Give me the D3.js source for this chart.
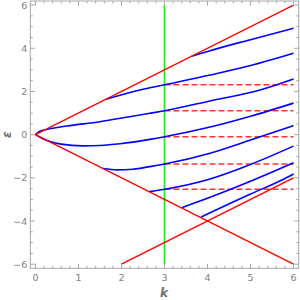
<!DOCTYPE html>
<html lang="en">
<head>
<meta charset="utf-8">
<script src="https://d3js.org/d3.v7.min.js"></script>
<style>
  html, body { margin: 0; padding: 0; background: #fff; }
  svg text { font-family: "DejaVu Sans", sans-serif; }
</style>
</head>
<body>
<script>
// band curves, [k, eps]
const bandA = [[3.63, 3.63], [4.06, 3.89], [5, 4.4], [6, 4.93]];
const bandB = [[1.64, 1.64], [2.43, 2.07], [3, 2.31], [4.06, 2.76], [5, 3.2], [6, 3.77]];
const bandC = [[0, 0], [0.08, 0.14], [0.26, 0.24], [0.73, 0.4], [1.5, 0.6], [1.97, 0.76], [2.66, 0.99], [3, 1.11], [4.06, 1.56], [5.22, 2.07], [6, 2.58]];
const bandD = [[0, 0], [0.15, -0.17], [0.34, -0.32], [0.6, -0.44], [1.1, -0.52], [1.5, -0.5], [1.97, -0.42], [2.66, -0.22], [3, -0.1], [4.06, 0.35], [5, 0.85], [6, 1.46]];
const bandE = [[1.57, -1.57], [1.9, -1.63], [2.27, -1.6], [2.66, -1.48], [3, -1.36], [4.06, -0.86], [5, -0.25], [6, 0.42]];
const bandF = [[2.64, -2.64], [3, -2.53], [4.06, -2.05], [5, -1.38], [6, -0.53]];
const bandG = [[3.4, -3.38], [4.06, -2.9], [5.07, -2.1], [6, -1.3]];
const bandH = [[3.85, -3.82], [4.06, -3.62], [5, -2.75], [5.73, -2.1], [6, -1.82]];
const bands = [bandA, bandB, bandC, bandD, bandE, bandF, bandG, bandH];

// red straight lines, as end points
const redLines = [
  [[0, 0], [6, 6]],
  [[0, 0], [6, -6]],
  [[2, -6], [6, -2]]
];
// dashed levels (band values at k = 3), drawn from k = 3 to 6
const levels = [2.31, 1.11, -0.1, -1.36, -2.53];
const levelFrom = 3, levelTo = 6;
const cutK = 3; // green line
const cutRange = [-6, 6];

const xTicks = [0, 1, 2, 3, 4, 5, 6];
const yTicks = [-6, -4, -2, 0, 2, 4, 6];

const width = 300, height = 300;
const mLeft = 30.3, mRight = 298.7, mTop = 1, mBottom = 268.3;

const x = d3.scaleLinear().domain([-0.12, 6.12]).range([mLeft, mRight]);
const y = d3.scaleLinear().domain([-6.19, 6.19]).range([mBottom, mTop]);

const svg = d3.select("body").append("svg")
  .attr("width", width).attr("height", height);

svg.append("defs").append("clipPath").attr("id", "clip")
  .append("rect").attr("x", mLeft).attr("y", mTop)
  .attr("width", mRight - mLeft).attr("height", mBottom - mTop);

const plot = svg.append("g").attr("clip-path", "url(#clip)");
const line = d3.line().x(d => x(d[0])).y(d => y(d[1]));
const smooth = d3.line().x(d => x(d[0])).y(d => y(d[1])).curve(d3.curveMonotoneX);

// green vertical
plot.append("line")
  .attr("x1", x(cutK)).attr("x2", x(cutK))
  .attr("y1", y(cutRange[0])).attr("y2", y(cutRange[1]))
  .attr("stroke", "#00ff00").attr("stroke-width", 1.6);

// dashed levels
plot.selectAll(".lvl").data(levels).join("line")
  .attr("x1", x(levelFrom)).attr("x2", x(levelTo))
  .attr("y1", d => y(d)).attr("y2", d => y(d))
  .attr("stroke", "#ff3333").attr("stroke-width", 1.6)
  .attr("stroke-dasharray", "6,3");

// blue bands
plot.selectAll(".band").data(bands).join("path")
  .attr("d", smooth)
  .attr("fill", "none").attr("stroke", "#0000ff").attr("stroke-width", 1.6);

// red lines
plot.selectAll(".red").data(redLines).join("path")
  .attr("d", line)
  .attr("fill", "none").attr("stroke", "#ff0000").attr("stroke-width", 1.4);

// frame with inward ticks
const frame = svg.append("g").attr("stroke", "#a6a6a6").attr("fill", "none");
frame.append("rect").attr("x", mLeft).attr("y", mTop)
  .attr("width", mRight - mLeft).attr("height", mBottom - mTop).attr("stroke-width", 1);

const xMinor = d3.range(0, 6.01, 0.2).filter(v => Math.abs(v - Math.round(v)) > 1e-6);
const yMinor = d3.range(-6, 6.01, 0.5).filter(v => Math.abs(v / 2 - Math.round(v / 2)) > 1e-6);

xTicks.forEach(v => {
  frame.append("line").attr("x1", x(v)).attr("x2", x(v)).attr("y1", mBottom).attr("y2", mBottom - 4.5);
  frame.append("line").attr("x1", x(v)).attr("x2", x(v)).attr("y1", mTop).attr("y2", mTop + 4.5);
});
xMinor.forEach(v => {
  frame.append("line").attr("x1", x(v)).attr("x2", x(v)).attr("y1", mBottom).attr("y2", mBottom - 2.5);
  frame.append("line").attr("x1", x(v)).attr("x2", x(v)).attr("y1", mTop).attr("y2", mTop + 2.5);
});
yTicks.forEach(v => {
  frame.append("line").attr("y1", y(v)).attr("y2", y(v)).attr("x1", mLeft).attr("x2", mLeft + 4.5);
  frame.append("line").attr("y1", y(v)).attr("y2", y(v)).attr("x1", mRight).attr("x2", mRight - 4.5);
});
yMinor.forEach(v => {
  frame.append("line").attr("y1", y(v)).attr("y2", y(v)).attr("x1", mLeft).attr("x2", mLeft + 2.5);
  frame.append("line").attr("y1", y(v)).attr("y2", y(v)).attr("x1", mRight).attr("x2", mRight - 2.5);
});

const fmt = v => (v < 0 ? "\u2212" + Math.abs(v) : String(v));

svg.append("g").selectAll("text").data(xTicks).join("text")
  .attr("x", d => x(d)).attr("y", mBottom + 12.5)
  .attr("text-anchor", "middle")
  .attr("font-size", 9.5).attr("fill", "#808080")
  .text(fmt);

svg.append("g").selectAll("text").data(yTicks).join("text")
  .attr("x", mLeft - 3).attr("y", d => y(d) + 3.5)
  .attr("text-anchor", "end")
  .attr("font-size", 9.5).attr("fill", "#808080")
  .text(fmt);

// axis labels
svg.append("text")
  .attr("x", x(3) - 0.5).attr("y", 297)
  .attr("text-anchor", "middle")
  .attr("font-size", 12).attr("font-weight", "bold").attr("font-style", "italic")
  .attr("fill", "#707070")
  .text("k");

svg.append("text")
  .attr("transform", `translate(10.5,${y(0)}) rotate(-90)`)
  .attr("text-anchor", "middle")
  .attr("font-size", 12).attr("font-weight", "bold").attr("font-style", "italic")
  .attr("fill", "#707070")
  .text("\u03b5");
</script>
</body>
</html>
